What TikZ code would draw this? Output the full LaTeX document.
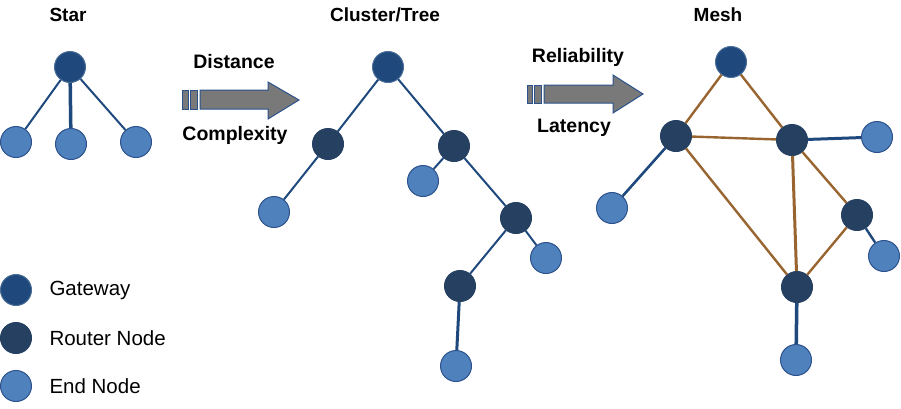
\documentclass[tikz,border=0pt]{standalone}
\usepackage{fontspec}
\setmainfont{Liberation Sans}

\definecolor{gwblue}{RGB}{31,73,125}
\definecolor{rtblue}{RGB}{38,64,97}
\definecolor{endblue}{RGB}{79,129,189}
\definecolor{endline}{RGB}{44,82,140}
\definecolor{linkblue}{RGB}{31,73,125}
\definecolor{meshbrown}{RGB}{152,101,48}

\begin{document}
\begin{tikzpicture}[x=1pt,y=-1pt,
  gw/.style={circle,fill=gwblue,draw=gwblue!80!white,line width=1pt,minimum size=31pt,inner sep=0pt},
  rt/.style={circle,fill=rtblue,draw=rtblue,line width=1pt,minimum size=31pt,inner sep=0pt},
  en/.style={circle,fill=endblue,draw=endline,line width=1pt,minimum size=31pt,inner sep=0pt},
  title/.style={font=\fontsize{19}{22}\selectfont\bfseries},
  lbl/.style={font=\fontsize{19.5}{22}\selectfont\bfseries},
  legtext/.style={font=\fontsize{20.5}{24}\selectfont,anchor=west},
  link/.style={linkblue,line width=2pt},
  mlink/.style={meshbrown,line width=2.4pt}]

\useasboundingbox (0,0) rectangle (901,408);

% titles
\node [title] (tstar) at (68,15) {Star};
\node [title] (ttree) at (385,15) {Cluster/Tree};
\node [title] (tmesh) at (718,15) {Mesh};

% star
\node [gw] (sgw) at (70,67) {};
\node [en] (se1) at (16,142) {};
\node [en] (se2) at (71,144) {};
\node [en] (se3) at (136,142) {};

\draw [link] (sgw) -- (se1);
\draw [link,line width=3.5pt] (sgw) -- (se2);
\draw [link] (sgw) -- (se3);

% cluster / tree
\node [gw] (tgw) at (388,67) {};
\node [rt] (tr1) at (328,144) {};
\node [rt] (tr2) at (454,146) {};
\node [rt] (tr3) at (516,218) {};
\node [rt] (tr4) at (460,286) {};
\node [en] (te1) at (274,212) {};
\node [en] (te2) at (423,181) {};
\node [en] (te3) at (546,258) {};
\node [en] (te4) at (456,366) {};

\draw [link] (tgw) -- (tr1);
\draw [link] (tgw) -- (tr2);
\draw [link] (tr1) -- (te1);
\draw [link] (tr2) -- (te2);
\draw [link] (tr2) -- (tr3);
\draw [link] (tr3) -- (te3);
\draw [link] (tr3) -- (tr4);
\draw [link,line width=3pt] (tr4) -- (te4);

% mesh
\node [gw] (mgw) at (731,62) {};
\node [rt] (mr1) at (676,136) {};
\node [rt] (mr2) at (792,140) {};
\node [rt] (mr3) at (857,215) {};
\node [rt] (mr4) at (797,287) {};
\node [en] (me1) at (612,208) {};
\node [en] (me2) at (877,137) {};
\node [en] (me3) at (884,256) {};
\node [en] (me4) at (796,360) {};

\draw [mlink] (mgw) -- (mr1);
\draw [mlink] (mgw) -- (mr2);
\draw [mlink] (mr1) -- (mr2);
\draw [mlink] (mr1) -- (mr4);
\draw [mlink,line width=3pt] (mr2) -- (mr4);
\draw [mlink] (mr2) -- (mr3);
\draw [mlink] (mr3) -- (mr4);

\draw [link,line width=2.6pt] (mr1) -- (me1);
\draw [link,line width=3pt] (mr2) -- (me2);
\draw [link,line width=2.4pt] (mr3) -- (me3);
\draw [link,line width=3.5pt] (mr4) -- (me4);

% arrows
\draw [endline,fill=gray!95!black,line width=1pt] (182,90) rectangle (188,109);
\draw [endline,fill=gray!95!black,line width=1pt] (190,90) rectangle (197,109);
\draw [endline,fill=gray!95!black,line width=1pt] (200,90) -- (268,90) -- (268,82) -- (299,100) -- (268,119) -- (268,109) -- (200,109) -- cycle;
\node [lbl] (dist) at (234,62) {Distance};
\node [lbl] (cplx) at (235,135) {Complexity};

\draw [endline,fill=gray!95!black,line width=1pt] (527,85) rectangle (532,103);
\draw [endline,fill=gray!95!black,line width=1pt] (534,85) rectangle (541,103);
\draw [endline,fill=gray!95!black,line width=1pt] (544,85) -- (613,85) -- (613,75) -- (643,94) -- (613,113) -- (613,103) -- (544,103) -- cycle;
\node [lbl] (reli) at (578,57) {Reliability};
\node [lbl] (late) at (574,128) {Latency};

% legend
\node [gw] (lgw) at (16,290) {};
\node [rt] (lrt) at (16,338) {};
\node [en] (len) at (16,386) {};
\node [legtext] (lgwt) at (46,290) {Gateway};
\node [legtext] (lrtt) at (46,338) {Router Node};
\node [legtext] (lent) at (46,386) {End Node};

\end{tikzpicture}
\end{document}
